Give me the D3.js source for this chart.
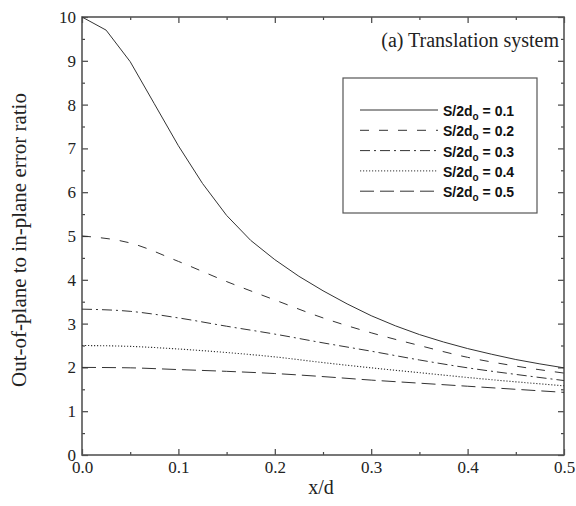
<!DOCTYPE html>
<html>
<head>
<meta charset="utf-8" />
<title>Out-of-plane to in-plane error ratio</title>
<style>
  body { margin: 0; background: #fff; }
  svg { display: block; }
  .tick text { font-family: "Liberation Serif", "Times New Roman", serif; font-size: 17px; fill: #222; }
  .domain { display: none; }
  .tick line { stroke: #444; stroke-width: 1.2; }
</style>
</head>
<body>
<svg id="chart" width="576" height="506"></svg>
<script src="https://d3js.org/d3.v7.min.js"></script>
<script>
// values
var xs1 = [0, 0.025, 0.05, 0.075, 0.1, 0.125, 0.15, 0.175, 0.2, 0.225, 0.25, 0.275, 0.3, 0.325, 0.35, 0.375, 0.4, 0.425, 0.45, 0.475, 0.5];
var ratio01 = [10, 9.7, 8.98, 8.02, 7.06, 6.2, 5.47, 4.9, 4.46, 4.08, 3.75, 3.45, 3.18, 2.95, 2.75, 2.58, 2.43, 2.3, 2.18, 2.08, 1.99];

var xs = [0, 0.05, 0.1, 0.15, 0.2, 0.25, 0.3, 0.35, 0.4, 0.45, 0.5];
var ratio02 = [5.0, 4.84, 4.42, 3.96, 3.54, 3.13, 2.79, 2.5, 2.23, 2.03, 1.87];
var ratio03 = [3.33, 3.28, 3.13, 2.94, 2.76, 2.56, 2.37, 2.17, 1.99, 1.84, 1.7];
var ratio04 = [2.5, 2.48, 2.42, 2.34, 2.24, 2.11, 1.99, 1.88, 1.77, 1.67, 1.58];
var ratio05 = [2.0, 1.99, 1.95, 1.91, 1.86, 1.79, 1.71, 1.64, 1.57, 1.5, 1.43];

var seriesNames = ["0.1", "0.2", "0.3", "0.4", "0.5"];
var dashes = [null, "9,10", "10,4,2,4", "1.2,1.8", "14,6"];

var xTicks = [0, 0.1, 0.2, 0.3, 0.4, 0.5];
var xMinor = [0.05, 0.15, 0.25, 0.35, 0.45];
var yTicks = [0, 1, 2, 3, 4, 5, 6, 7, 8, 9, 10];
var yMinor = [0.5, 1.5, 2.5, 3.5, 4.5, 5.5, 6.5, 7.5, 8.5, 9.5];

var series = [
  { name: seriesNames[0], pts: xs1.map(function(d, i){ return [d, ratio01[i]]; }), linear: true },
  { name: seriesNames[1], pts: xs.map(function(d, i){ return [d, ratio02[i]]; }) },
  { name: seriesNames[2], pts: xs.map(function(d, i){ return [d, ratio03[i]]; }) },
  { name: seriesNames[3], pts: xs.map(function(d, i){ return [d, ratio04[i]]; }) },
  { name: seriesNames[4], pts: xs.map(function(d, i){ return [d, ratio05[i]]; }) }
];

var svg = d3.select("#chart");
// plot edges (window.top is reserved, so prefix these)
var plotL = 82, plotR = 564, plotT = 17, plotB = 455;

var x = d3.scaleLinear().domain([0, 0.5]).range([plotL, plotR]);
var y = d3.scaleLinear().domain([0, 10]).range([plotB, plotT]);

// axes, ticks pointing inward
svg.append("g").attr("transform", "translate(0," + plotB + ")")
  .call(d3.axisBottom(x).tickValues(xTicks).tickSize(-6).tickPadding(6).tickFormat(d3.format(".1f")));
svg.append("g").attr("transform", "translate(0," + plotB + ")")
  .call(d3.axisBottom(x).tickValues(xMinor).tickSize(-3).tickFormat(""));
svg.append("g").attr("transform", "translate(0," + plotT + ")")
  .call(d3.axisTop(x).tickValues(xTicks).tickSize(-6).tickFormat(""));
svg.append("g").attr("transform", "translate(0," + plotT + ")")
  .call(d3.axisTop(x).tickValues(xMinor).tickSize(-3).tickFormat(""));

svg.append("g").attr("transform", "translate(" + plotL + ",0)")
  .call(d3.axisLeft(y).tickValues(yTicks).tickSize(-6).tickPadding(6).tickFormat(d3.format("d")));
svg.append("g").attr("transform", "translate(" + plotL + ",0)")
  .call(d3.axisLeft(y).tickValues(yMinor).tickSize(-3).tickFormat(""));
svg.append("g").attr("transform", "translate(" + plotR + ",0)")
  .call(d3.axisRight(y).tickValues(yTicks).tickSize(-6).tickFormat(""));
svg.append("g").attr("transform", "translate(" + plotR + ",0)")
  .call(d3.axisRight(y).tickValues(yMinor).tickSize(-3).tickFormat(""));

// frame
svg.append("rect")
  .attr("x", plotL).attr("y", plotT)
  .attr("width", plotR - plotL).attr("height", plotB - plotT)
  .attr("fill", "none").attr("stroke", "#555").attr("stroke-width", 1.6);

// curves
var line = d3.line()
  .x(function(d){ return x(d[0]); })
  .y(function(d){ return y(d[1]); });

series.forEach(function(s, i){
  svg.append("path")
    .datum(s.pts)
    .attr("d", line.curve(s.linear ? d3.curveLinear : d3.curveMonotoneX))
    .attr("fill", "none")
    .attr("stroke", "#333")
    .attr("stroke-width", i == 3 ? 1.1 : 1)
    .attr("stroke-dasharray", dashes[i]);
});

// title
svg.append("text")
  .attr("x", 559).attr("y", 47)
  .attr("text-anchor", "end")
  .style("font-family", "'Liberation Serif', serif")
  .style("font-size", "20px")
  .style("fill", "#222")
  .text("(a) Translation system");

// legend
var legend = svg.append("g");
legend.append("rect")
  .attr("x", 343).attr("y", 78).attr("width", 194).attr("height", 135)
  .attr("fill", "#fff").attr("stroke", "#555").attr("stroke-width", 1.2);

series.forEach(function(s, i){
  var ly = 110 + i * 20.3;
  legend.append("line")
    .attr("x1", 360).attr("x2", 438)
    .attr("y1", ly).attr("y2", ly)
    .attr("stroke", "#333").attr("stroke-width", 1)
    .attr("stroke-dasharray", dashes[i]);
  var t = legend.append("text")
    .attr("x", 443).attr("y", ly + 6)
    .style("font-family", "'Liberation Sans', Arial, sans-serif")
    .style("font-size", "14px")
    .style("font-weight", "bold")
    .style("fill", "#111");
  t.append("tspan").text("S/2d");
  t.append("tspan").attr("dy", 4).style("font-size", "10px").text("o");
  t.append("tspan").attr("dy", -4).text(" = " + s.name);
});

// axis labels
svg.append("text")
  .attr("x", 321).attr("y", 494)
  .attr("text-anchor", "middle")
  .style("font-family", "'Liberation Serif', serif")
  .style("font-size", "20px")
  .style("fill", "#222")
  .text("x/d");

svg.append("text")
  .attr("transform", "translate(26,240) rotate(-90)")
  .attr("text-anchor", "middle")
  .style("font-family", "'Liberation Serif', serif")
  .style("font-size", "21px")
  .style("fill", "#222")
  .text("Out-of-plane to in-plane error ratio");
</script>
</body>
</html>
